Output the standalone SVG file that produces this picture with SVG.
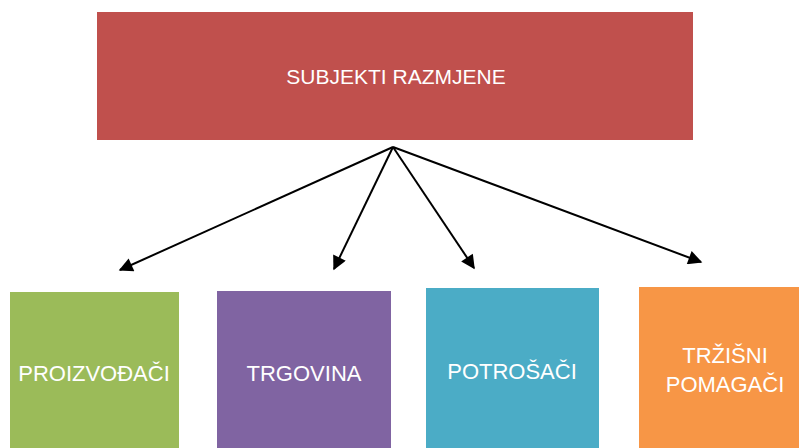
<svg xmlns="http://www.w3.org/2000/svg" width="799" height="448" viewBox="0 0 799 448">
<style>
.lbl{font-family:"Liberation Sans",Arial,sans-serif;font-size:22px;fill:#ffffff;text-anchor:middle}
.top{font-size:21px}
.conn{stroke:#000;stroke-width:2;fill:none;marker-end:url(#ah)}
</style>
<defs>
<marker id="ah" viewBox="0 0 10 10" refX="9" refY="5" markerWidth="15" markerHeight="14" markerUnits="userSpaceOnUse" orient="auto">
<path d="M0,0 L10,5 L0,10 z" fill="#000"/>
</marker>
</defs>
<rect width="799" height="448" fill="#ffffff"/>
<g id="subjekti">
<rect x="97" y="12" width="596" height="128" fill="#C0504D"/>
<text class="lbl top" x="396" y="84">SUBJEKTI RAZMJENE</text>
</g>
<g id="connectors">
<line class="conn" x1="393" y1="147" x2="120" y2="270"/>
<line class="conn" x1="393" y1="147" x2="334" y2="269"/>
<line class="conn" x1="393" y1="147" x2="474" y2="268"/>
<line class="conn" x1="393" y1="147" x2="701" y2="262"/>
</g>
<g id="proizvodaci">
<rect x="10" y="292" width="169" height="160" fill="#9BBB59"/>
<text class="lbl" x="94" y="381">PROIZVOĐAČI</text>
</g>
<g id="trgovina">
<rect x="217" y="291" width="174" height="160" fill="#8064A2"/>
<text class="lbl" x="304" y="381">TRGOVINA</text>
</g>
<g id="potrosaci">
<rect x="426" y="288" width="173" height="164" fill="#4BACC6"/>
<text class="lbl" x="512" y="379">POTROŠAČI</text>
</g>
<g id="trzisni-pomagaci">
<rect x="639" y="287" width="175" height="165" fill="#F79646"/>
<text class="lbl" x="725" y="363">TRŽIŠNI</text>
<text class="lbl" x="725" y="392">POMAGAČI</text>
</g>
</svg>
